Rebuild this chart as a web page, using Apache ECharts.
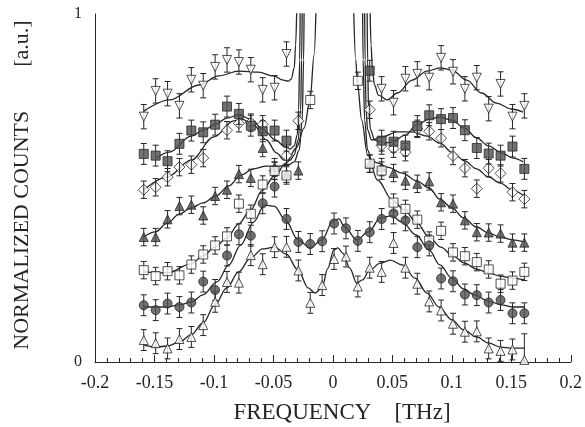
<!DOCTYPE html>
<html lang="en">
<head>
    <meta charset="UTF-8">
    <title>Normalized counts</title>
    <script src="https://cdn.jsdelivr.net/npm/echarts@6/dist/echarts.min.js"></script>
    <style>
        html, body { margin: 0; padding: 0; background: #fff; }
        #charts { width: 585px; height: 427px; }
    </style>
</head>
<body>
<div id="charts"></div>
<script>
    // frequency of each measured point (THz)
    var freq = [-0.159,-0.149,-0.139,-0.129,-0.119,-0.109,-0.099,-0.089,-0.079,-0.069,-0.059,-0.049,-0.039,
                -0.029,-0.019,-0.009,0.001,0.011,0.021,0.031,0.041,0.051,0.061,0.071,0.081,0.091,0.101,
                0.111,0.121,0.131,0.141,0.151,0.161];

    // measured points, top curve to bottom curve (null = no point)
    var openDown = [0.705,0.779,0.771,0.736,0.811,0.794,0.848,0.868,0.862,0.840,0.782,0.788,0.885,
                    null,null,null,null,null,null,null,
                    0.785,0.745,0.814,0.828,0.817,0.874,0.834,0.785,0.817,0.728,0.799,0.705,0.736];
    var fullSquare = [0.598,0.593,0.577,0.627,0.665,0.660,0.682,0.734,0.713,0.679,0.663,0.665,0.636,
                      null,null,null,null,null,null,0.837,
                      0.636,0.633,0.622,0.678,0.709,0.698,0.701,0.666,0.615,0.599,0.593,0.619,0.555];
    var openDiamond = [0.495,0.502,0.531,0.560,0.567,0.586,null,0.666,0.686,0.688,0.683,0.550,0.593,
                       0.693,null,null,null,null,null,0.725,
                       0.622,0.613,0.603,0.670,0.663,0.643,0.592,0.557,0.498,0.557,0.542,0.488,0.468];
    var fullTriangle = [0.359,0.359,0.410,0.448,0.452,0.421,0.477,0.495,0.540,0.529,0.615,0.560,0.541,
                        0.550,null,null,null,null,null,0.570,
                        0.560,0.543,0.521,0.512,0.519,0.459,0.455,0.407,0.373,0.372,0.369,0.343,0.343];
    var openSquare = [0.264,0.247,0.261,0.249,0.280,0.309,0.335,0.361,0.455,0.426,0.510,0.549,0.536,
                      null,0.753,null,null,null,0.808,0.570,
                      0.550,0.458,0.440,0.409,0.349,0.377,0.315,0.304,0.287,0.266,0.225,0.234,0.259];
    var fullCircle = [0.163,0.149,0.168,0.158,0.171,0.231,0.207,0.306,0.367,0.363,0.456,0.504,0.411,
                      0.345,0.339,0.347,0.398,0.384,0.348,0.373,
                      0.411,0.427,0.407,0.330,0.335,0.240,0.232,0.194,0.192,0.171,0.178,0.140,0.140];
    var openUp = [0.063,0.054,0.039,0.066,0.072,0.106,0.173,0.230,0.228,0.307,0.281,0.330,0.331,
                  0.263,0.170,0.221,0.296,0.303,0.217,0.271,
                  0.259,0.342,0.271,0.225,0.174,0.148,0.110,0.087,0.088,0.039,0.032,0.036,0.006];

    // half length of the error bars
    var errSize = [0.035, 0.03, 0.025, 0.025, 0.025, 0.03, 0.03];
    var lastUpErr = 0.075;

    // fitted curves [freq, value]
    var fitDown = [[-0.159,0.721],[-0.1375,0.753],[-0.1125,0.796],[-0.096,0.822],[-0.079,0.836],[-0.0625,0.833],
        [-0.05,0.822],[-0.0417,0.81],[-0.0375,0.807],[-0.035,0.813],[-0.0325,0.845],[-0.0313,0.911],[-0.0304,1.011],
        null,
        [0.0313,1.011],[0.0321,0.911],[0.0333,0.839],[0.035,0.796],[0.0383,0.767],[0.0458,0.753],[0.0542,0.773],
        [0.0667,0.81],[0.0792,0.836],[0.09,0.845],[0.1,0.839],[0.1125,0.81],[0.125,0.773],[0.1375,0.744],
        [0.15,0.727],[0.16,0.718]];
    var fitSquare = [[-0.1483,0.586],[-0.1375,0.603],[-0.1192,0.649],[-0.1083,0.667],[-0.0983,0.684],[-0.0892,0.701],
        [-0.0792,0.71],[-0.0692,0.698],[-0.0583,0.667],[-0.0483,0.638],[-0.04,0.618],[-0.0358,0.612],[-0.0325,0.621],
        [-0.03,0.652],[-0.0288,0.724],[-0.0279,0.868],[-0.0275,1.011],
        null,
        [0.0288,1.011],[0.0292,0.868],[0.03,0.724],[0.0317,0.667],[0.035,0.638],[0.0417,0.629],[0.05,0.632],
        [0.0608,0.652],[0.0708,0.681],[0.0808,0.698],[0.09,0.704],[0.1,0.695],[0.1108,0.672],[0.1208,0.644],
        [0.1308,0.621],[0.1417,0.601],[0.1517,0.586],[0.16,0.575]];
    var fitDiamond = [[-0.1592,0.494],[-0.1392,0.532],[-0.1192,0.58],[-0.1,0.647],[-0.0833,0.693],[-0.0767,0.698],
        [-0.0667,0.681],[-0.0558,0.638],[-0.0475,0.601],[-0.0408,0.58],[-0.0358,0.58],[-0.0325,0.595],[-0.0292,0.638],
        [-0.0271,0.724],[-0.0263,0.868],[-0.0258,1.011],
        null,
        [0.0267,1.011],[0.0271,0.868],[0.0279,0.724],[0.0292,0.667],[0.0325,0.638],[0.0417,0.647],[0.0542,0.661],
        [0.0667,0.661],[0.0792,0.649],[0.09,0.629],[0.1008,0.601],[0.1108,0.578],[0.1208,0.555],[0.1308,0.532],
        [0.1408,0.514],[0.1508,0.494],[0.1608,0.477]];
    var fitTriangle = [[-0.1592,0.359],[-0.1492,0.374],[-0.1392,0.399],[-0.1292,0.425],[-0.1192,0.443],[-0.1092,0.457],
        [-0.0983,0.477],[-0.0875,0.506],[-0.0775,0.537],[-0.0667,0.555],[-0.0558,0.563],[-0.0458,0.563],[-0.0375,0.566],
        [-0.0325,0.575],[-0.0283,0.609],[-0.0258,0.695],[-0.0246,0.868],[-0.0242,1.011],
        null,
        [0.025,1.011],[0.0254,0.868],[0.0267,0.695],[0.0292,0.609],[0.0325,0.58],[0.0375,0.572],[0.0458,0.56],
        [0.0583,0.543],[0.0708,0.52],[0.0808,0.5],[0.09,0.468],[0.1,0.443],[0.11,0.414],[0.1208,0.388],
        [0.1308,0.371],[0.1408,0.359],[0.1508,0.351],[0.1608,0.345]];
    var fitOpenSquare = [[-0.1592,0.259],[-0.1392,0.256],[-0.1192,0.282],[-0.1092,0.305],[-0.0992,0.33],[-0.0892,0.356],
        [-0.0792,0.397],[-0.0692,0.437],[-0.0592,0.494],[-0.0492,0.534],[-0.0392,0.572],[-0.0308,0.615],[-0.0242,0.672],
        [-0.0192,0.753],[-0.0158,0.882],[-0.0142,1.011],
        null,
        [0.0175,1.011],[0.0192,0.868],[0.0208,0.796],[0.0242,0.695],[0.0292,0.595],[0.0375,0.523],[0.05,0.466],
        [0.06,0.437],[0.0708,0.399],[0.0808,0.359],[0.0908,0.33],[0.1008,0.305],[0.1108,0.284],[0.1208,0.267],
        [0.1308,0.256],[0.1408,0.247],[0.1508,0.241],[0.1608,0.236]];
    var fitCircle = [[-0.1592,0.158],[-0.1392,0.158],[-0.1292,0.164],[-0.1192,0.172],[-0.1092,0.193],[-0.0975,0.23],
        [-0.0875,0.279],[-0.0775,0.336],[-0.0667,0.402],[-0.0575,0.451],[-0.0492,0.448],[-0.04,0.408],[-0.0292,0.351],
        [-0.0192,0.328],[-0.0092,0.351],[0,0.405],[0.005,0.411],[0.01,0.388],[0.02,0.351],[0.03,0.374],[0.04,0.414],
        [0.0492,0.42],[0.0583,0.402],[0.07,0.365],[0.0808,0.322],[0.09,0.279],[0.1,0.241],[0.11,0.21],[0.1192,0.193],
        [0.1308,0.175],[0.1417,0.164],[0.1508,0.158],[0.1608,0.158]];
    var fitUp = [[-0.1592,0.049],[-0.1492,0.043],[-0.1392,0.046],[-0.1292,0.057],[-0.1192,0.078],[-0.1092,0.112],
        [-0.0992,0.164],[-0.0892,0.213],[-0.0792,0.259],[-0.0692,0.299],[-0.0592,0.325],[-0.0492,0.33],[-0.0392,0.31],
        [-0.0292,0.264],[-0.0208,0.213],[-0.015,0.198],[-0.0092,0.213],[-0.0042,0.27],[0.0008,0.322],[0.0042,0.328],
        [0.0083,0.313],[0.0142,0.27],[0.02,0.227],[0.025,0.236],[0.0308,0.264],[0.04,0.284],[0.0483,0.293],
        [0.0583,0.279],[0.0692,0.241],[0.0792,0.198],[0.0892,0.158],[0.1,0.121],[0.11,0.092],[0.1208,0.072],
        [0.1308,0.055],[0.1408,0.043],[0.1508,0.04],[0.1608,0.04]];

    var ink = '#252525';
    var fillDark = '#505050';
    var font = 'Liberation Serif';

    var sets = [
        {data: openDown, fit: fitDown, symbol: 'triangle', rotate: 180, size: 9, filled: false},
        {data: fullSquare, fit: fitSquare, symbol: 'rect', rotate: 0, size: 9, filled: true},
        {data: openDiamond, fit: fitDiamond, symbol: 'diamond', rotate: 0, size: 11, filled: false},
        {data: fullTriangle, fit: fitTriangle, symbol: 'triangle', rotate: 0, size: 9, filled: true},
        {data: openSquare, fit: fitOpenSquare, symbol: 'rect', rotate: 0, size: 9, filled: false},
        {data: fullCircle, fit: fitCircle, symbol: 'circle', rotate: 0, size: 9, filled: true},
        {data: openUp, fit: fitUp, symbol: 'triangle', rotate: 0, size: 9, filled: false}
    ];

    function errBar(params, api) {
        var x = api.value(0);
        var top = api.coord([x, api.value(2)]);
        var bot = api.coord([x, api.value(1)]);
        var w = 3;
        var st = {stroke: ink, lineWidth: 1};
        return {
            type: 'group',
            children: [
                {type: 'line', shape: {x1: top[0], y1: top[1], x2: bot[0], y2: bot[1]}, style: st},
                {type: 'line', shape: {x1: top[0] - w, y1: top[1], x2: top[0] + w, y2: top[1]}, style: st},
                {type: 'line', shape: {x1: bot[0] - w, y1: bot[1], x2: bot[0] + w, y2: bot[1]}, style: st}
            ]
        };
    }

    var series = [];
    for (var s = 0; s < sets.length; s++) {
        var set = sets[s];
        var pts = [], bars = [];
        for (var k = 0; k < freq.length; k++) {
            var v = set.data[k];
            if (v === null) continue;
            var e = errSize[s];
            if (s === 6 && k === freq.length - 1) e = lastUpErr;
            pts.push([freq[k], v]);
            bars.push([freq[k], v - e, v + e]);
        }
        series.push({
            type: 'line',
            data: set.fit,
            showSymbol: false,
            smooth: 0.35,
            smoothMonotone: 'x',
            connectNulls: false,
            lineStyle: {color: ink, width: 1.3},
            silent: true,
            animation: false,
            z: 1
        });
        series.push({
            type: 'custom',
            renderItem: errBar,
            data: bars,
            encode: {x: 0, y: [1, 2]},
            clip: true,
            silent: true,
            animation: false,
            z: 3
        });
        series.push({
            type: 'scatter',
            data: pts,
            symbol: set.symbol,
            symbolRotate: set.rotate,
            symbolSize: set.size,
            itemStyle: {
                color: set.filled ? fillDark : '#fff',
                borderColor: ink,
                borderWidth: 1
            },
            silent: true,
            animation: false,
            z: set.symbol === 'diamond' ? 2 : 4
        });
    }

    var myChart = echarts.init(document.getElementById('charts'));

    var option = {
        backgroundColor: '#fff',
        animation: false,
        grid: {left: 95, right: 10, top: 14, bottom: 65},
        xAxis: {
            type: 'value',
            min: -0.2,
            max: 0.2,
            interval: 0.05,
            axisLine: {onZero: false, lineStyle: {color: ink, width: 1}},
            axisTick: {inside: true, length: 7, lineStyle: {color: ink}},
            minorTick: {show: true, splitNumber: 5, length: 4, lineStyle: {color: ink}},
            axisLabel: {color: ink, fontFamily: font, fontSize: 18, margin: 12},
            splitLine: {show: false}
        },
        yAxis: {
            type: 'value',
            min: 0,
            max: 1,
            interval: 1,
            axisLine: {show: true, onZero: false, lineStyle: {color: ink, width: 1}},
            axisTick: {show: false},
            axisLabel: {color: ink, fontFamily: font, fontSize: 16, margin: 13},
            splitLine: {show: false}
        },
        graphic: [
            {
                type: 'text',
                x: 22, y: 185,
                rotation: Math.PI / 2,
                style: {
                    text: 'NORMALIZED COUNTS        [a.u.]',
                    font: '22px "Liberation Serif"',
                    fill: ink,
                    align: 'center',
                    verticalAlign: 'middle'
                }
            },
            {
                type: 'text',
                x: 342, y: 413,
                style: {
                    text: 'FREQUENCY    [THz]',
                    font: '23px "Liberation Serif"',
                    fill: ink,
                    align: 'center',
                    verticalAlign: 'middle'
                }
            }
        ],
        series: series
    };

    myChart.setOption(option);
</script>
</body>
</html>
